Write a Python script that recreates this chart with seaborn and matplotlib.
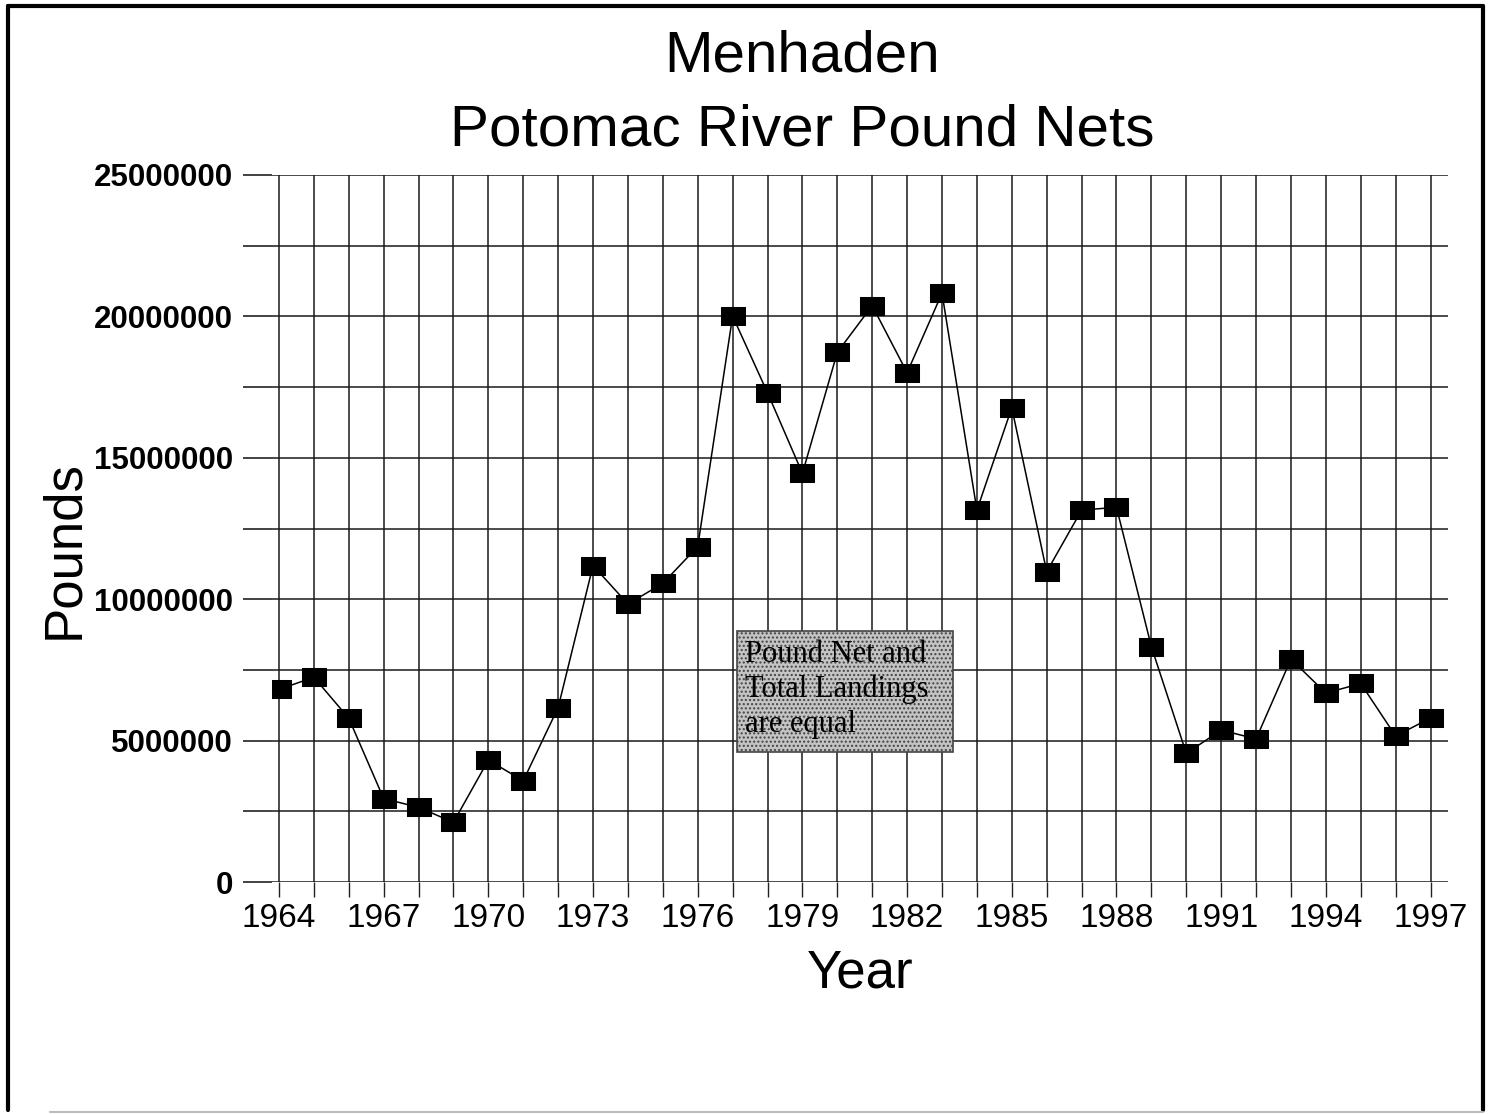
import numpy as np
import pandas as pd
import matplotlib
matplotlib.use("Agg")
import matplotlib.pyplot as plt
import seaborn as sns
from matplotlib.patches import Rectangle
from matplotlib.lines import Line2D
from matplotlib.ticker import MultipleLocator, FuncFormatter

# 데이터
years = list(range(1964, 1998))
pounds = [6810000, 7240000, 5790000, 2950000, 2640000, 2110000, 4310000, 3580000,
          6170000, 11190000, 9830000, 10560000, 11860000, 20010000, 17300000, 14450000,
          18730000, 20380000, 18010000, 20820000, 13150000, 16770000, 10970000, 13150000,
          13250000, 8320000, 4550000, 5370000, 5060000, 7880000, 6680000, 7020000,
          5160000, 5800000]
title_lines = ["Menhaden", "Potomac River Pound Nets"]
note_text = "Pound Net and\nTotal Landings\nare equal"

df = pd.DataFrame({"Year": years, "Pounds": pounds})

sns.set_style("white")
plt.rcParams['font.family'] = ['Liberation Sans', 'DejaVu Sans']
plt.rcParams['text.color'] = 'black'
plt.rcParams['xtick.color'] = 'black'
plt.rcParams['ytick.color'] = 'black'

fig = plt.figure(figsize=(14.93, 11.14), dpi=100)
ax = fig.add_axes([272 / 1493, 1 - 882 / 1114, 1176 / 1493, 707 / 1114])

# 가로로 약간 넓은 사각형 마커
box_marker = [(-1, -0.74), (1, -0.74), (1, 0.74), (-1, 0.74), (-1, -0.74)]
sns.lineplot(data=df, x="Year", y="Pounds", ax=ax, color="black", lw=1.1,
             marker=box_marker, markersize=17.5, markerfacecolor="black",
             markeredgecolor="black", zorder=5)

ax.set_xlim(1963.8, 1997.5)
ax.set_ylim(0, 25000000)

# 눈금 및 격자
ax.xaxis.set_major_locator(MultipleLocator(1))
ax.xaxis.set_major_formatter(FuncFormatter(lambda v, p: f"{int(round(v))}" if int(round(v)) % 3 == 1964 % 3 else ""))
ax.yaxis.set_major_locator(MultipleLocator(2500000))
ax.yaxis.set_major_formatter(FuncFormatter(lambda v, p: f"{int(v)}" if int(v) % 5000000 == 0 else ""))
ax.grid(True, color="#1a1a1a", lw=1.1)
ax.tick_params(axis="x", bottom=True, length=11, width=1, color="#222222",
               labelsize=24, pad=4, labelcolor="black")
ax.tick_params(axis="y", left=True, length=21, width=1.2, color="#222222",
               labelsize=22.5, pad=7, labelcolor="black")
for lab in ax.get_yticklabels():
    lab.set_fontweight("bold")
for s in ax.spines.values():
    s.set_visible(False)

ax.set_xlabel("")
ax.set_ylabel("")
fig.text(860 / 1493, 1 - 987 / 1114, "Year", fontsize=38, ha="center", va="baseline")
fig.text(64 / 1493, 1 - 550 / 1114, "Pounds", fontsize=38, ha="center", va="center", rotation=90)

# 제목
fig.text(802 / 1493, 1 - 72 / 1114, title_lines[0], fontsize=42, ha="center", va="baseline")
fig.text(802 / 1493, 1 - 145 / 1114, title_lines[1], fontsize=42, ha="center", va="baseline")

# 주석 박스
ax.add_patch(Rectangle((0.3954, 0.1839), 0.1837, 0.1711, transform=ax.transAxes,
                       facecolor="#c4c4c4", edgecolor="#444444", lw=1.2,
                       hatch="....", zorder=6))
ax.text(0.4020, 0.3420, note_text, transform=ax.transAxes, fontsize=22,
        family=['Liberation Serif', 'DejaVu Serif'], va="top", ha="left",
        linespacing=1.25, zorder=7)

# 그림 테두리
fig.add_artist(Line2D([8, 8], [4, 1108], transform=None, color="black", lw=3))
fig.add_artist(Line2D([8, 1483], [1108, 1108], transform=None, color="black", lw=3))
fig.add_artist(Line2D([1483, 1483], [4, 1108], transform=None, color="black", lw=3))
fig.add_artist(Line2D([50, 1483], [2, 2], transform=None, color="#bbbbbb", lw=1.5))

fig.savefig("out.png", dpi=100)
